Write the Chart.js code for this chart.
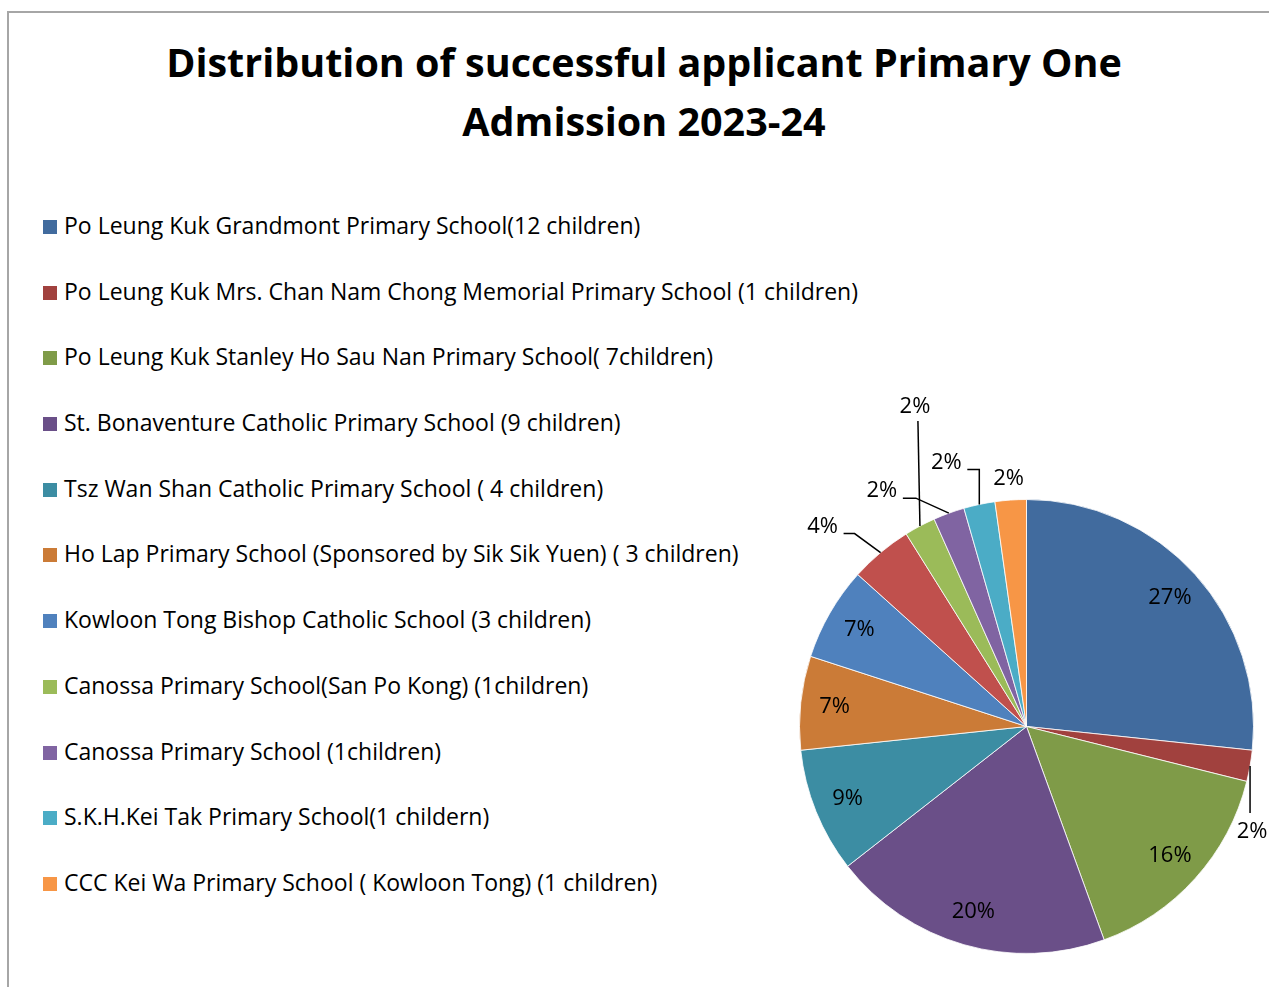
<!DOCTYPE html>
<html>
<head>
<meta charset="utf-8">
<script src="https://cdn.jsdelivr.net/npm/chart.js@4.4.1/dist/chart.umd.min.js"></script>
<style>
  html, body {
    margin: 0;
    padding: 0;
    width: 1269px;
    height: 987px;
    overflow: hidden;
    background: #fff;
    font-family: "Open Sans", sans-serif;
  }
  #frame {
    position: absolute;
    left: 7px;
    top: 11px;
    width: 1400px;
    height: 1100px;
    border-left: 2px solid #a6a6a6;
    border-top: 2px solid #a6a6a6;
  }
  #title {
    position: absolute;
    left: 8px;
    top: 33px;
    width: 1272px;
    text-align: center;
    font-weight: bold;
    font-size: 39.5px;
    line-height: 59px;
    color: #000;
  }
  #legend {
    position: absolute;
    left: 43px;
    top: 193px;
    margin: 0;
    padding: 0;
    list-style: none;
  }
  #legend li {
    height: 65.7px;
    line-height: 65.7px;
    font-size: 23px;
    color: #000;
    white-space: nowrap;
  }
  #legend span.box {
    display: inline-block;
    width: 14px;
    height: 14px;
    margin-right: 7px;
    vertical-align: 0px;
  }
  #pieChart {
    position: absolute;
    left: 0;
    top: 0;
  }
</style>
</head>
<body>
<div id="frame"></div>
<div id="title">Distribution of successful applicant Primary One<br>Admission 2023-24</div>
<ul id="legend"></ul>
<canvas id="pieChart" width="1269" height="987"></canvas>

<script>
/* data */
const schoolLabels = [
  "Po Leung Kuk Grandmont Primary School(12 children)",
  "Po Leung Kuk Mrs. Chan Nam Chong Memorial Primary School (1 children)",
  "Po Leung Kuk Stanley Ho Sau Nan Primary School( 7children)",
  "St. Bonaventure Catholic Primary School (9 children)",
  "Tsz Wan Shan Catholic Primary School ( 4 children)",
  "Ho Lap Primary School (Sponsored by Sik Sik Yuen) ( 3 children)",
  "Kowloon Tong Bishop Catholic School (3 children)",
  "",
  "Canossa Primary School(San Po Kong) (1children)",
  "Canossa Primary School (1children)",
  "S.K.H.Kei Tak Primary School(1 childern)",
  "CCC Kei Wa Primary School ( Kowloon Tong) (1 children)"
];

const childCounts = [12, 1, 7, 9, 4, 3, 3, 2, 1, 1, 1, 1];

const sliceColors = [
  "#416b9e", "#a1413e", "#7f9b48", "#6a4f88", "#3c8da3", "#cb7b37",
  "#4f81bd", "#c0504d", "#9bbb59", "#8064a2", "#4bacc6", "#f79646"
];

/* legend */
const legendEl = document.querySelector("#legend");

schoolLabels.forEach((label, i) => {
  if (label === "") return;
  const item = document.createElement("li");
  item.innerHTML = `<span class="box" style="background:${sliceColors[i]}"></span>${label}`;
  legendEl.appendChild(item);
});

/* percent labels, with leader lines for the thin slices */
const percentLabels = {
  id: "percentLabels",
  afterDatasetsDraw(chart, args, opts) {
    const ctx = chart.ctx;
    const meta = chart.getDatasetMeta(0);
    const total = childCounts.reduce((sum, v) => sum + v, 0);

    ctx.save();
    ctx.font = opts.font;
    ctx.fillStyle = "#000";
    ctx.strokeStyle = "#000";
    ctx.lineWidth = 1.5;
    ctx.textAlign = "center";
    ctx.textBaseline = "middle";

    meta.data.forEach((arc, i) => {
      const {x, y, startAngle, endAngle, outerRadius} =
        arc.getProps(["x", "y", "startAngle", "endAngle", "outerRadius"], true);
      const mid = (startAngle + endAngle) / 2;
      const text = Math.round(childCounts[i] / total * 100) + "%";
      const callout = opts.callouts[i];

      if (!callout) {
        ctx.fillText(
          text,
          x + Math.cos(mid) * outerRadius * 0.85,
          y + Math.sin(mid) * outerRadius * 0.85
        );
        return;
      }

      const ex = x + Math.cos(mid) * outerRadius;
      const ey = y + Math.sin(mid) * outerRadius;

      if (callout.line.length) {
        ctx.beginPath();
        ctx.moveTo(ex, ey);
        callout.line.forEach(([dx, dy]) => ctx.lineTo(ex + dx, ey + dy));
        ctx.stroke();
      }
      ctx.fillText(text, ex + callout.label[0], ey + callout.label[1]);
    });

    ctx.restore();
  }
};

/* chart */
const pieChart = new Chart(document.querySelector("#pieChart"), {
  type: "pie",
  data: {
    labels: schoolLabels,
    datasets: [
      {
        data: childCounts,
        backgroundColor: sliceColors,
        borderColor: "rgba(255,255,255,0.8)",
        borderWidth: 1,
        hoverOffset: 0
      }
    ]
  },
  options: {
    responsive: false,
    animation: false,
    layout: {
      padding: {
        left: 799,
        right: 15,
        top: 499,
        bottom: 33
      }
    },
    plugins: {
      legend: {
        display: false
      },
      tooltip: {
        enabled: false
      },
      percentLabels: {
        font: "22px 'Open Sans', sans-serif",
        callouts: {
          1: {label: [2, 66], line: [[0, 47]]},
          7: {label: [-58, -26], line: [[-26, -19], [-37, -19]]},
          8: {label: [-5, -119], line: [[-2, -105]]},
          9: {label: [-67, -22], line: [[-33, -15], [-46, -15]]},
          10: {label: [-33, -42], line: [[0, -35], [-12, -35]]},
          11: {label: [-2, -21], line: []}
        }
      }
    }
  },
  plugins: [percentLabels]
});
</script>
</body>
</html>
